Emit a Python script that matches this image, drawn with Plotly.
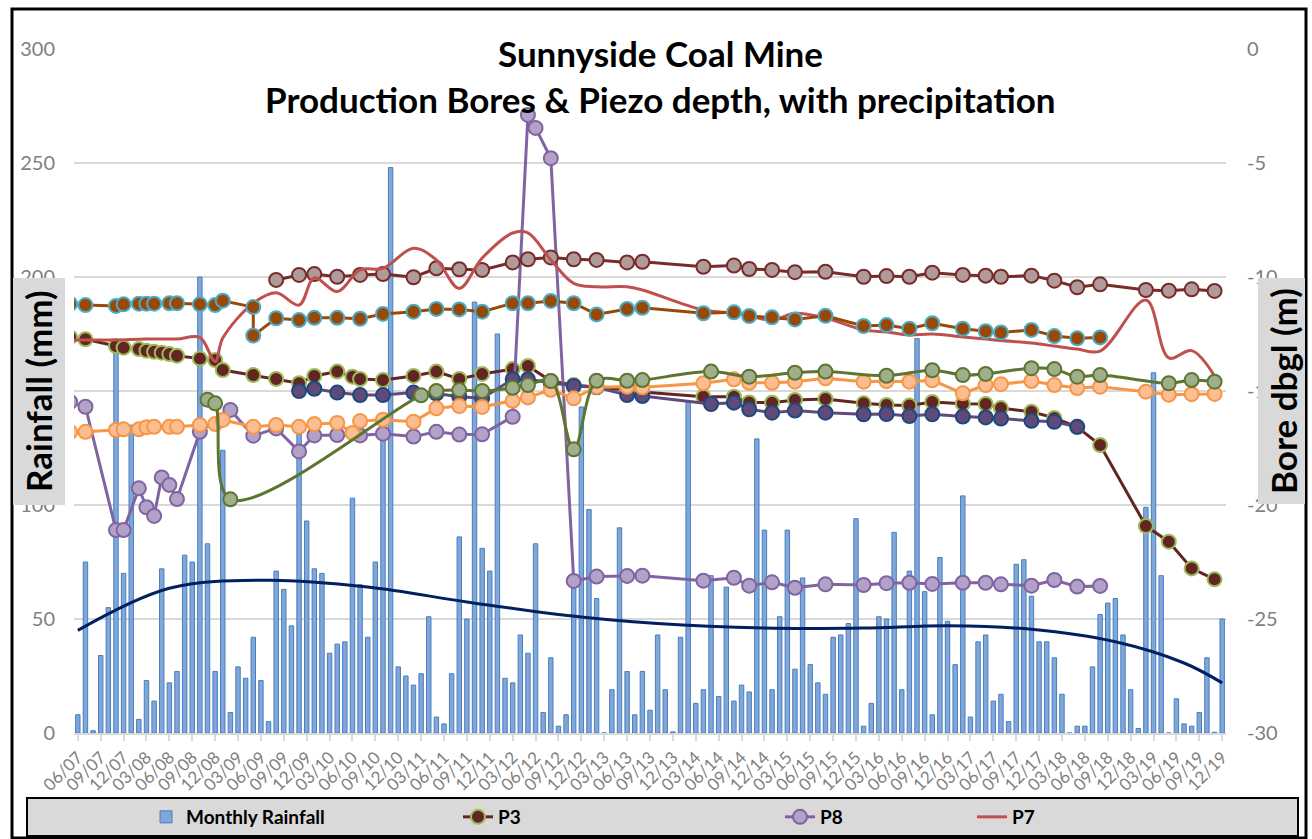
import plotly.graph_objects as go

# ---------------- data ----------------
tick_labels = ["06/07","09/07","12/07","03/08","06/08","09/08","12/08","03/09","06/09","09/09","12/09",
               "03/10","06/10","09/10","12/10","03/11","06/11","09/11","12/11","03/12","06/12","09/12",
               "12/12","03/13","06/13","09/13","12/13","03/14","06/14","09/14","12/14","03/15","06/15",
               "09/15","12/15","03/16","06/16","09/16","12/16","03/17","06/17","09/17","12/17","03/18",
               "06/18","09/18","12/18","03/19","06/19","09/19","12/19"]

# monthly rainfall (mm), one value per month from 06/07 to 12/19
rainfall = [8,75,1,34,55,167,70,135,6,23,
            14,72,22,27,78,75,200,83,27,124,
            9,29,24,42,23,5,71,63,47,131,
            93,72,70,35,39,40,103,65,42,75,
            133,248,29,25,21,26,51,7,4,26,
            86,50,189,81,71,175,24,22,43,35,
            83,9,33,3,8,67,143,98,59,0,
            19,90,27,8,27,10,43,19,0.5,42,
            145,13,19,69,16,64,14,21,18,129,
            89,19,51,89,28,68,30,22,17,42,
            43,48,94,3,13,51,50,88,19,71,
            173,62,8,77,49,30,104,7,40,43,
            14,17,5,74,76,60,40,40,33,17,
            0,3,3,29,52,57,59,43,19,2,
            99,158,69,0,15,4,3,9,33,0.3,
            50]

# rainfall trend, month index -> mm
trend_idx = [0,12,25,38,51,63,76,90,103,114,125,136,145,150]
trend_val = [45,63.5,67,64,57.5,52,48,46,46,47,45.5,40,30.7,22]

# bore depths (m below ground), keyed by month index (0 = 06/07)
P3_idx = [-1,1,5,6,8,9,10,11,12,13,16,18,19,23,26,29,31,34,36,37,40,44,47,50,53,57,59,62,65,68,
          72,74,82,86,88,91,94,98,103,106,109,112,116,119,121,125,128,131,134,140,143,146,149]
P3_val = [-12.64,-12.73,-13.03,-13.10,-13.16,-13.23,-13.28,-13.32,-13.38,-13.45,
          -13.58,-13.64,-14.08,-14.30,-14.47,-14.66,-14.34,-14.15,-14.37,-14.47,
          -14.52,-14.34,-14.15,-14.47,-14.25,-14.04,-13.90,-14.56,-14.74,-14.82,
          -14.96,-15.04,-15.25,-15.25,-15.50,-15.51,-15.39,-15.35,-15.54,-15.61,
          -15.64,-15.48,-15.56,-15.57,-15.75,-15.91,-16.18,-16.58,-17.37,-20.92,
          -21.61,-22.78,-23.26]

M_idx = [26,29,31,34,37,40,44,47,50,53,57,59,62,65,68,72,74,82,86,88,91,94,98,103,106,109,112,
         116,119,121,125,128,131,134,140,143,146,149]
M_val = [-10.13,-9.91,-9.87,-9.99,-9.91,-9.87,-10.01,-9.62,-9.66,-9.69,
         -9.36,-9.22,-9.14,-9.22,-9.25,-9.36,-9.33,-9.55,-9.50,-9.65,
         -9.69,-9.79,-9.77,-9.99,-9.96,-9.99,-9.81,-9.91,-9.94,-9.99,
         -9.94,-10.16,-10.45,-10.32,-10.57,-10.60,-10.54,-10.61]

B_idx = [-1,1,5,6,8,9,10,12,13,16,18,19,23,23,26,29,31,34,37,40,44,47,50,53,57,59,62,65,68,72,
         74,82,86,88,91,94,98,103,106,109,112,116,119,121,125,128,131,134]
B_val = [-11.18,-11.23,-11.27,-11.20,-11.17,-11.17,-11.17,-11.15,-11.15,-11.20,
         -11.23,-11.04,-11.32,-12.57,-11.81,-11.89,-11.79,-11.79,-11.83,-11.62,
         -11.52,-11.40,-11.42,-11.52,-11.15,-11.15,-11.05,-11.15,-11.64,-11.40,
         -11.35,-11.59,-11.55,-11.71,-11.77,-11.86,-11.70,-12.15,-12.11,-12.27,
         -12.03,-12.27,-12.38,-12.43,-12.32,-12.59,-12.69,-12.65]

N_idx = [29,31,34,37,40,44,47,50,53,57,59,62,65,68,72,74,83,86,88,91,94,98,103,106,109,112,116,
         119,121,125,128,131]
N_val = [-15.00,-14.90,-15.07,-15.18,-15.18,-15.07,-15.11,-15.25,-15.32,-14.49,
         -14.49,-14.65,-14.78,-14.84,-15.18,-15.22,-15.57,-15.51,-15.80,-15.95,
         -15.86,-15.95,-16.02,-16.01,-16.10,-16.02,-16.12,-16.16,-16.21,-16.31,
         -16.35,-16.57]

O_idx = [-1,1,5,6,8,9,10,12,13,16,18,19,23,26,29,31,34,36,37,40,44,47,50,53,57,59,62,65,68,72,
         74,82,86,88,91,94,98,103,106,109,112,116,119,121,125,128,131,134,140,143,146,149]
O_val = [-16.80,-16.79,-16.71,-16.68,-16.68,-16.59,-16.57,-16.57,-16.57,-16.49,
         -16.45,-16.27,-16.57,-16.49,-16.57,-16.45,-16.40,-16.84,-16.32,-16.26,
         -16.35,-15.76,-15.66,-15.70,-15.43,-15.28,-14.95,-15.32,-14.82,-14.81,
         -14.84,-14.66,-14.49,-14.64,-14.64,-14.59,-14.44,-14.59,-14.57,-14.59,
         -14.53,-15.10,-14.74,-14.70,-14.56,-14.74,-14.87,-14.81,-15.03,-15.16,
         -15.14,-15.13]

G_idx = [17,18,20,45,47,50,53,57,59,62,65,68,72,74,83,88,94,98,106,112,116,119,125,128,131,134,
         143,146,149]
G_val = [-15.38,-15.54,-19.75,-15.19,-15.00,-14.96,-15.00,-14.86,-14.74,-14.56,
         -17.56,-14.55,-14.55,-14.52,-14.15,-14.37,-14.20,-14.15,-14.33,-14.09,
         -14.30,-14.25,-14.00,-14.04,-14.37,-14.30,-14.66,-14.52,-14.59]

P8_idx = [-1,1,5,6,8,9,10,11,12,13,16,20,23,26,29,31,34,37,40,44,47,50,53,57,59,60,62,65,68,72,
          74,82,86,88,91,94,98,103,106,109,112,116,119,121,125,128,131,134]
P8_val = [-15.48,-15.69,-21.10,-21.10,-19.27,-20.10,-20.48,-18.79,-19.12,-19.74,
          -16.79,-15.83,-16.96,-16.64,-17.65,-16.95,-16.93,-16.95,-16.87,-17.00,
          -16.79,-16.91,-16.90,-16.13,-2.89,-3.46,-4.79,-23.33,-23.14,-23.11,
          -23.10,-23.32,-23.19,-23.54,-23.39,-23.63,-23.48,-23.51,-23.43,-23.41,
          -23.46,-23.41,-23.41,-23.48,-23.54,-23.29,-23.58,-23.55]

P7_idx = [-1,1,5,8,10,13,16,18,19,23,26,29,31,34,37,40,44,47,50,53,57,59,62,65,68,72,74,82,86,88,
          91,94,98,103,106,109,112,116,119,121,125,128,131,134,140,143,146,149]
P7_val = [-12.76,-12.76,-12.76,-12.73,-12.72,-12.72,-12.65,-13.71,-12.68,-11.15,
          -10.69,-11.23,-10.04,-10.64,-9.69,-9.62,-8.74,-9.25,-10.50,-9.17,
          -8.07,-8.06,-9.25,-10.28,-10.43,-10.43,-10.57,-11.45,-11.58,-11.71,
          -11.89,-11.59,-11.80,-12.32,-12.41,-12.54,-12.50,-12.63,-12.72,-12.79,
          -12.89,-13.03,-13.16,-13.25,-11.01,-13.55,-13.23,-14.34]

# ---------------- layout geometry ----------------
W, H = 1312, 839
L, R, T, B = 74, 86, 49, 106
PW, PH = W - L - R, H - T - B


def px(xp):
    return (xp - L) / PW


def py(yp):
    return (H - B - yp) / PH


FONT = "Lato"
GREY = "#7F7F7F"

fig = go.Figure()

fig.add_trace(go.Bar(
    x=list(range(len(rainfall))), y=rainfall, name="Monthly Rainfall",
    width=0.58, marker=dict(color="#7FA7DA", line=dict(color="#4A7EBB", width=1)),
    yaxis="y", legend="legend"))

fig.add_trace(go.Scatter(
    x=trend_idx, y=trend_val, mode="lines", line=dict(color="#002060", width=3, shape="spline"),
    showlegend=False, yaxis="y", hoverinfo="skip"))


def series(idx, val, name, lcolor, fill, edge, shape="linear", show=False, legend="legend"):
    fig.add_trace(go.Scatter(
        x=idx, y=val, name=name, mode="lines+markers", yaxis="y2",
        line=dict(color=lcolor, width=3, shape=shape),
        marker=dict(size=14, color=fill, line=dict(color=edge, width=2)),
        showlegend=show, legend=legend))


series(P3_idx, P3_val, "P3", "#632523", "#632523", "#9BBB59", show=True, legend="legend2")
series(P8_idx, P8_val, "P8", "#8064A2", "#B3A2C7", "#8064A2", show=True, legend="legend3")
series(M_idx, M_val, "Mauve", "#772C2A", "#B09A9A", "#772C2A")
fig.add_trace(go.Scatter(
    x=P7_idx, y=P7_val, name="P7", mode="lines", yaxis="y2",
    line=dict(color="#C0504D", width=3, shape="spline", smoothing=1.0),
    showlegend=True, legend="legend4"))
series(B_idx, B_val, "Brown", "#984807", "#984807", "#4BACC6")
series(N_idx, N_val, "Navy", "#604A7B", "#604A7B", "#1F497D")
series(O_idx, O_val, "Orange", "#F79646", "#FBBE93", "#F79646")
series(G_idx, G_val, "Green", "#5E7530", "#9FAF8B", "#5E7530", shape="spline")

legend_common = dict(orientation="h", yanchor="middle", y=py(817), xanchor="left",
                     bgcolor="rgba(0,0,0,0)", borderwidth=0,
                     font=dict(family=FONT, size=19, color="black", weight="bold"))

fig.update_layout(
    width=W, height=H,
    margin=dict(l=L, r=R, t=T, b=B, pad=0, autoexpand=False),
    paper_bgcolor="white", plot_bgcolor="white",
    barmode="overlay",
    showlegend=True,
    legend=dict(x=px(146), **legend_common),
    legend2=dict(x=px(458), **legend_common),
    legend3=dict(x=px(780), **legend_common),
    legend4=dict(x=px(972), **legend_common),
    xaxis=dict(range=[-0.5, 150.5], tickmode="array", tickvals=list(range(0, 151, 3)),
               ticktext=tick_labels, tickangle=-45, showgrid=False, zeroline=False,
               showline=True, linecolor="#D9D9D9", linewidth=1.5, automargin=False,
               ticks="outside", ticklen=6, tickcolor="#D9D9D9", tickwidth=1.5,
               tickfont=dict(family=FONT, size=17, color=GREY)),
    yaxis=dict(range=[0, 300], tickmode="array", tickvals=[0, 50, 100, 150, 200, 250, 300],
               showgrid=True, gridcolor="#D9D9D9", gridwidth=1.5, zeroline=False,
               showline=False, ticks="", ticklabelstandoff=18, automargin=False,
               tickfont=dict(family=FONT, size=20, color=GREY)),
    yaxis2=dict(range=[-30, 0], overlaying="y", side="right", tickmode="array",
                tickvals=[0, -5, -10, -15, -20, -25, -30],
                ticktext=["0", "-5", "-10", "-15", "-20", "-25", "-30"],
                showgrid=False, zeroline=False, showline=False, ticks="", ticklabelstandoff=20,
                automargin=False,
                tickfont=dict(family=FONT, size=20, color=GREY)),
    font=dict(family=FONT),
)

shapes = [
    # outer chart border
    dict(type="rect", xref="paper", yref="paper", x0=px(12), x1=px(1306), y0=py(838), y1=py(9),
         line=dict(color="black", width=3), fillcolor="rgba(0,0,0,0)", layer="above"),
    # legend box
    dict(type="rect", xref="paper", yref="paper", x0=px(27), x1=px(1298), y0=py(836), y1=py(798),
         line=dict(color="black", width=2), fillcolor="#D9D9D9", layer="below"),
    # axis title boxes
    dict(type="rect", xref="paper", yref="paper", x0=px(13), x1=px(65), y0=py(505), y1=py(278),
         line=dict(width=0), fillcolor="#D9D9D9", layer="above"),
    dict(type="rect", xref="paper", yref="paper", x0=px(1258), x1=px(1305), y0=py(504), y1=py(278),
         line=dict(width=0), fillcolor="#D9D9D9", layer="above"),
]
fig.update_layout(shapes=shapes)

annotations = [
    dict(text="<b>Sunnyside Coal Mine</b>", x=px(660), y=py(53), xref="paper", yref="paper",
         showarrow=False, xanchor="center", yanchor="middle",
         font=dict(family=FONT, size=35, color="black")),
    dict(text="<b>Production Bores &amp; Piezo depth, with precipitation</b>", x=px(660), y=py(99),
         xref="paper", yref="paper", showarrow=False, xanchor="center", yanchor="middle",
         font=dict(family=FONT, size=35, color="black")),
    dict(text="<b>Rainfall (mm)</b>", x=px(38), y=py(391), xref="paper", yref="paper",
         showarrow=False, textangle=-90, xanchor="center", yanchor="middle",
         font=dict(family=FONT, size=35, color="black")),
    dict(text="<b>Bore dbgl (m)</b>", x=px(1283), y=py(391), xref="paper", yref="paper",
         showarrow=False, textangle=-90, xanchor="center", yanchor="middle",
         font=dict(family=FONT, size=35, color="black")),
]
fig.update_layout(annotations=annotations)

fig.write_html("out.html", config={"displayModeBar": False},
               post_script="document.body.style.margin='0';")
